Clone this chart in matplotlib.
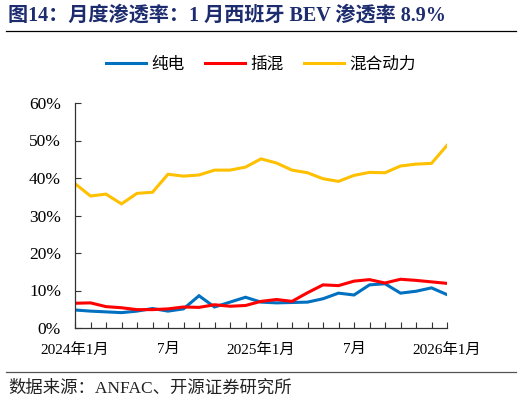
import numpy as np
import matplotlib
matplotlib.use("Agg")
import matplotlib.pyplot as plt
from matplotlib.lines import Line2D

SERIF = ['Liberation Serif', 'Noto Sans CJK SC', 'DejaVu Sans']
CJK = ['Noto Sans CJK SC', 'DejaVu Sans']
plt.rcParams['font.family'] = SERIF

months = np.arange(25)  # 2024-01 .. 2026-01
bev = [4.8, 4.5, 4.3, 4.1, 4.5, 5.2, 4.5, 5.1, 8.6, 5.6, 6.9, 8.2, 6.9,
       6.7, 6.8, 6.9, 7.8, 9.3, 8.8, 11.5, 11.8, 9.3, 9.8, 10.7, 8.9]
phev = [6.6, 6.7, 5.7, 5.4, 4.9, 4.9, 5.1, 5.6, 5.5, 6.2, 5.8, 6.0, 7.1,
        7.6, 7.1, 9.4, 11.5, 11.3, 12.5, 12.9, 12.0, 13.0, 12.7, 12.3, 11.9]
hybrid = [38.5, 35.2, 35.7, 33.1, 35.9, 36.2, 41.0, 40.5, 40.8, 42.1, 42.1, 42.9, 45.1,
          44.0, 42.1, 41.4, 39.8, 39.1, 40.7, 41.5, 41.4, 43.2, 43.7, 43.9, 48.7]
names = ['纯电', '插混', '混合动力']
colors = ['#0070C0', '#FF0000', '#FFC000']
tick_pos = [0, 6, 12, 18, 24]
tick_lab = ['2024年1月', '7月', '2025年1月', '7月', '2026年1月']

fig = plt.figure(figsize=(5.22, 4.05), dpi=100)
ax = fig.add_axes([75/522, 1-328/405, 372/522, 225/405])

for ys, c in zip([bev, phev, hybrid], colors):
    ax.plot(months, ys, color=c, lw=2.2, solid_joinstyle='miter')

ax.set_xlim(0, 24)
ax.set_ylim(0, 60)
ax.set_yticks(np.arange(0, 61, 10))
ax.set_yticklabels([f'{v}%' for v in range(0, 61, 10)], fontsize=12.5, family=SERIF)
ax.set_xticks(months, minor=True)
ax.set_xticks(tick_pos)
ax.set_xticklabels(tick_lab, fontsize=11, family=SERIF)
ax.tick_params(axis='both', which='both', direction='in', length=4, width=0.8, color='#333333')
ax.tick_params(axis='x', which='major', pad=11)
ax.tick_params(axis='y', pad=10)
for s in ['top', 'right']:
    ax.spines[s].set_visible(False)
for s in ['left', 'bottom']:
    ax.spines[s].set_color('#333333')
    ax.spines[s].set_linewidth(0.9)

handles = [Line2D([], [], color=c, lw=2.2) for c in colors]
fig.legend(handles, names, loc='center', bbox_to_anchor=(261/522, 1-64/405), ncol=3,
           frameon=False, handlelength=2.4, columnspacing=1.2, handletextpad=0.35,
           prop={'family': CJK, 'size': 12})

fig.text(8/522, 1-16/405, '图14：月度渗透率：1 月西班牙 BEV 渗透率 8.9%', fontsize=14.5,
         fontweight='bold', color='#1C2C6E', va='center', family=SERIF)
fig.add_artist(Line2D([6/522, 516/522], [1-31/405, 1-31/405], color='black', lw=0.9))
fig.add_artist(Line2D([6/522, 516/522], [1-372/405, 1-372/405], color='#555555', lw=0.9))
fig.text(8/522, 1-389/405, '数据来源：ANFAC、开源证券研究所', fontsize=12.5, va='center',
         family=SERIF, color='#222222')

fig.savefig('out.png', dpi=100)
